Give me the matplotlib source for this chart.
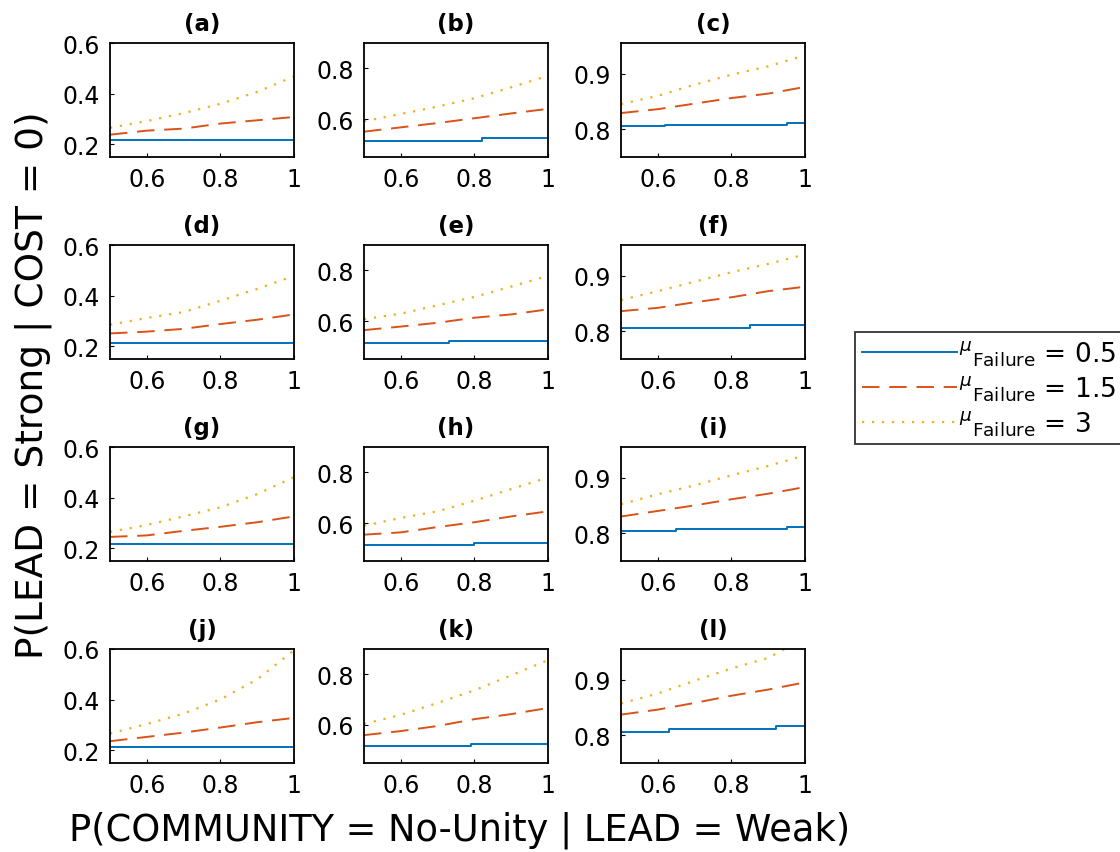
import numpy as np
import matplotlib
matplotlib.use("Agg")
import matplotlib.pyplot as plt
from matplotlib.ticker import FuncFormatter

plt.rcParams['font.family'] = ['DejaVu Sans']

# x grid shared by the dashed / dotted curves
x_grid = [0.5, 0.6, 0.7, 0.8, 0.9, 1.0]

panel_labels = ['(a)', '(b)', '(c)', '(d)', '(e)', '(f)',
                '(g)', '(h)', '(i)', '(j)', '(k)', '(l)']

# mu_Failure = 0.5 (solid, step-like): breakpoints and levels
blue_x = [
    [0.5, 1.0], [0.5, 0.82, 1.0], [0.5, 0.62, 0.95, 1.0],
    [0.5, 1.0], [0.5, 0.73, 1.0], [0.5, 0.85, 1.0],
    [0.5, 1.0], [0.5, 0.8, 1.0], [0.5, 0.65, 0.95, 1.0],
    [0.5, 1.0], [0.5, 0.79, 1.0], [0.5, 0.63, 0.92, 1.0],
]
blue_y = [
    [0.216, 0.216], [0.514, 0.524, 0.524], [0.805, 0.808, 0.812, 0.812],
    [0.215, 0.215], [0.512, 0.521, 0.521], [0.806, 0.811, 0.811],
    [0.216, 0.216], [0.513, 0.521, 0.521], [0.804, 0.807, 0.811, 0.811],
    [0.212, 0.212], [0.516, 0.524, 0.524], [0.806, 0.811, 0.816, 0.816],
]

# mu_Failure = 1.5 (dashed)
dashed_y = [
    [0.238, 0.254, 0.262, 0.282, 0.295, 0.308],
    [0.550, 0.567, 0.584, 0.603, 0.622, 0.640],
    [0.829, 0.836, 0.846, 0.856, 0.864, 0.876],
    [0.251, 0.258, 0.269, 0.288, 0.305, 0.326],
    [0.564, 0.578, 0.593, 0.613, 0.626, 0.646],
    [0.836, 0.842, 0.852, 0.861, 0.872, 0.880],
    [0.245, 0.251, 0.269, 0.285, 0.303, 0.326],
    [0.554, 0.563, 0.584, 0.603, 0.626, 0.646],
    [0.830, 0.840, 0.850, 0.861, 0.871, 0.883],
    [0.236, 0.253, 0.270, 0.290, 0.311, 0.328],
    [0.560, 0.576, 0.596, 0.623, 0.643, 0.667],
    [0.837, 0.846, 0.858, 0.871, 0.882, 0.895],
]

# mu_Failure = 3 (dotted)
dotted_y = [
    [0.265, 0.292, 0.323, 0.360, 0.407, 0.468],
    [0.591, 0.620, 0.649, 0.682, 0.725, 0.771],
    [0.845, 0.860, 0.880, 0.898, 0.913, 0.933],
    [0.285, 0.312, 0.335, 0.380, 0.427, 0.478],
    [0.607, 0.629, 0.662, 0.695, 0.736, 0.778],
    [0.856, 0.872, 0.889, 0.906, 0.921, 0.938],
    [0.265, 0.292, 0.326, 0.362, 0.414, 0.481],
    [0.589, 0.620, 0.646, 0.688, 0.734, 0.780],
    [0.852, 0.870, 0.886, 0.904, 0.921, 0.940],
    [0.266, 0.304, 0.345, 0.401, 0.480, 0.595],
    [0.604, 0.640, 0.687, 0.737, 0.796, 0.856],
    [0.857, 0.875, 0.898, 0.920, 0.939, 0.975],
]

col_ylims = [(0.15, 0.6), (0.45, 0.9), (0.75, 0.955)]
col_yticks = [[0.2, 0.4, 0.6], [0.6, 0.8], [0.8, 0.9]]

legend_labels = [r'$^{\mu}$$_{\rm Failure}$ = 0.5',
                 r'$^{\mu}$$_{\rm Failure}$ = 1.5',
                 r'$^{\mu}$$_{\rm Failure}$ = 3']

c_blue, c_red, c_yel = '#0072BD', '#D95319', '#EDB120'

W, H = 1120, 853
fig = plt.figure(figsize=(W / 100, H / 100), dpi=100)

col_left = [110, 364, 621]
row_top = [44, 246, 448, 650]
ax_w, ax_h = 184, 114

fmt = FuncFormatter(lambda v, p: '%g' % v)
handles = None
for i in range(12):
    r, c = divmod(i, 3)
    ax = fig.add_axes([col_left[c] / W, 1 - (row_top[r] + ax_h) / H, ax_w / W, ax_h / H])
    h1, = ax.plot(blue_x[i], blue_y[i], color=c_blue, lw=1.4, drawstyle='steps-post')
    h2, = ax.plot(x_grid, dashed_y[i], color=c_red, lw=1.4, ls=(0, (9, 5)))
    h3, = ax.plot(x_grid, dotted_y[i], color=c_yel, lw=1.6, ls=(0, (1, 3.5)))
    handles = [h1, h2, h3]
    ax.set_xlim(0.5, 1.0)
    ax.set_ylim(*col_ylims[c])
    ax.set_yticks(col_yticks[c])
    ax.set_xticks([0.6, 0.8, 1.0])
    ax.xaxis.set_major_formatter(fmt)
    ax.yaxis.set_major_formatter(fmt)
    ax.tick_params(direction='in', length=3, labelsize=17, pad=7, width=0.8)
    for s in ax.spines.values():
        s.set_linewidth(1.3)
    ax.set_title(panel_labels[i], fontsize=16.5, fontweight='bold', pad=9)

fig.text(460 / W, 1 - 830 / H, 'P(COMMUNITY = No-Unity | LEAD = Weak)',
         ha='center', va='center', fontsize=26.5)
fig.text(33 / W, 1 - 385 / H, 'P(LEAD = Strong | COST = 0)',
         ha='center', va='center', rotation=90, fontsize=27)

leg = fig.legend(handles, legend_labels, loc='upper left',
                 bbox_to_anchor=(855 / W, 1 - 333 / H), fontsize=19,
                 handlelength=3.6, handletextpad=0.1, labelspacing=0.2,
                 frameon=True, fancybox=False, borderpad=0.25,
                 borderaxespad=0)
leg.get_frame().set_edgecolor('black')
leg.get_frame().set_linewidth(1.3)

fig.savefig('out.png', dpi=100)
